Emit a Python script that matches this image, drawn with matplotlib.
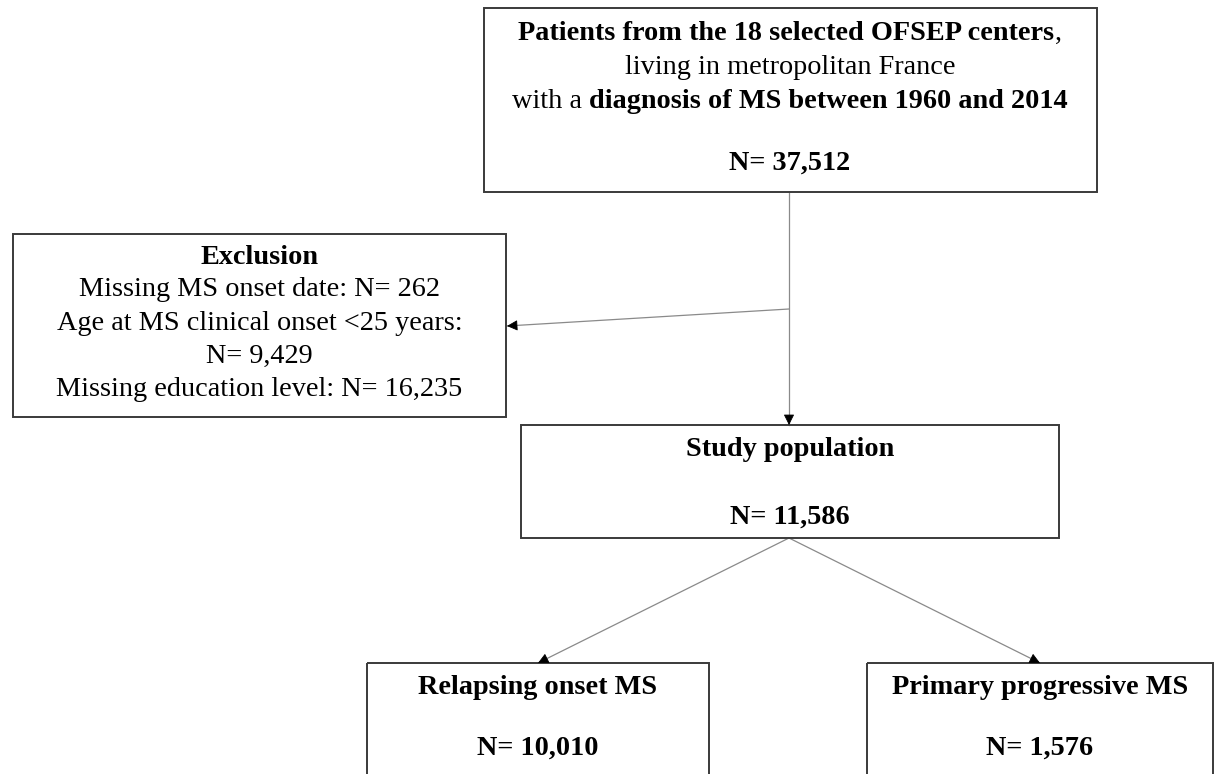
import matplotlib
matplotlib.use("Agg")
import matplotlib.pyplot as plt
from matplotlib.patches import Rectangle

# flowchart numbers
total_n = 37512
n_centers = 18
diag_years = (1960, 2014)
excl_labels = ["Missing MS onset date", "Age at MS clinical onset <25 years", "Missing education level"]
excl_counts = [262, 9429, 16235]
study_n = 11586
subgroup_names = ["Relapsing onset MS", "Primary progressive MS"]
subgroup_n = [10010, 1576]

W, H = 1218, 774
plt.rcParams['font.family'] = ['Liberation Serif', 'DejaVu Serif']
FS = 20.3
BOX_EC = "#3a3a3a"
LINE_C = "#8a8a8a"

fig = plt.figure(figsize=(W / 100, H / 100), dpi=100)
ax = fig.add_axes([0, 0, 1, 1])
ax.set_xlim(0, W)
ax.set_ylim(H, 0)
ax.axis('off')
renderer = fig.canvas.get_renderer()


def box(x0, y0, x1, y1):
    ax.add_patch(Rectangle((x0, y0), x1 - x0, y1 - y0, fill=False,
                           edgecolor=BOX_EC, linewidth=1.4, zorder=2))


def rich_line(cx, y, runs):
    # runs: list of (text, weight); drawn centred on cx
    texts = []
    for s, w in runs:
        t = ax.text(0, y, s, fontsize=FS, fontweight=w, ha='left', va='center')
        texts.append(t)
    widths = [t.get_window_extent(renderer).width for t in texts]
    x = cx - sum(widths) / 2
    for t, w in zip(texts, widths):
        t.set_x(x)
        x += w


def arrow(x0, y0, x1, y1):
    ax.plot([x0, x1], [y0, y1], color=LINE_C, lw=0.9, zorder=1)
    ax.annotate('', xy=(x1, y1), xytext=(x1 - (x1 - x0) * 0.02, y1 - (y1 - y0) * 0.02),
                arrowprops=dict(arrowstyle='-|>,head_length=0.5,head_width=0.25',
                                color='black', lw=0.6, shrinkA=0, shrinkB=0,
                                mutation_scale=13))


# top box
box(484, 8, 1097, 192)
rich_line(790, 33, [(f"Patients from the {n_centers} selected OFSEP centers", 'bold'), (",", 'normal')])
rich_line(790, 67, [("living in metropolitan France", 'normal')])
rich_line(790, 102, [("with a ", 'normal'),
                     (f"diagnosis of MS between {diag_years[0]} and {diag_years[1]}", 'bold')])
rich_line(790, 163, [(f"N= {total_n:,}", 'bold')])

# exclusion box
box(13, 234, 506, 417)
excl_lines = [("Exclusion", 'bold'),
              (f"{excl_labels[0]}: N= {excl_counts[0]:,}", 'normal'),
              (f"{excl_labels[1]}:", 'normal'),
              (f"N= {excl_counts[1]:,}", 'normal'),
              (f"{excl_labels[2]}: N= {excl_counts[2]:,}", 'normal')]
for i, (s, w) in enumerate(excl_lines):
    rich_line(259.5, 257 + 33 * i, [(s, w)])

# study population box
box(521, 425, 1059, 538)
rich_line(790, 449, [("Study population", 'bold')])
rich_line(790, 517, [(f"N= {study_n:,}", 'bold')])

# subgroup boxes (cut by the bottom edge)
sub_boxes = [(367, 709), (867, 1213)]
for (x0, x1), name, n in zip(sub_boxes, subgroup_names, subgroup_n):
    box(x0, 663, x1, 820)
    cx = (x0 + x1) / 2
    rich_line(cx, 687, [(name, 'bold')])
    rich_line(cx, 748, [(f"N= {n:,}", 'bold')])

# connectors
arrow(789, 192, 789, 425)
arrow(789, 309, 507, 326)
arrow(789, 538, 538, 663)
arrow(789, 538, 1040, 663)

fig.savefig("out.png", dpi=100, facecolor='white')
